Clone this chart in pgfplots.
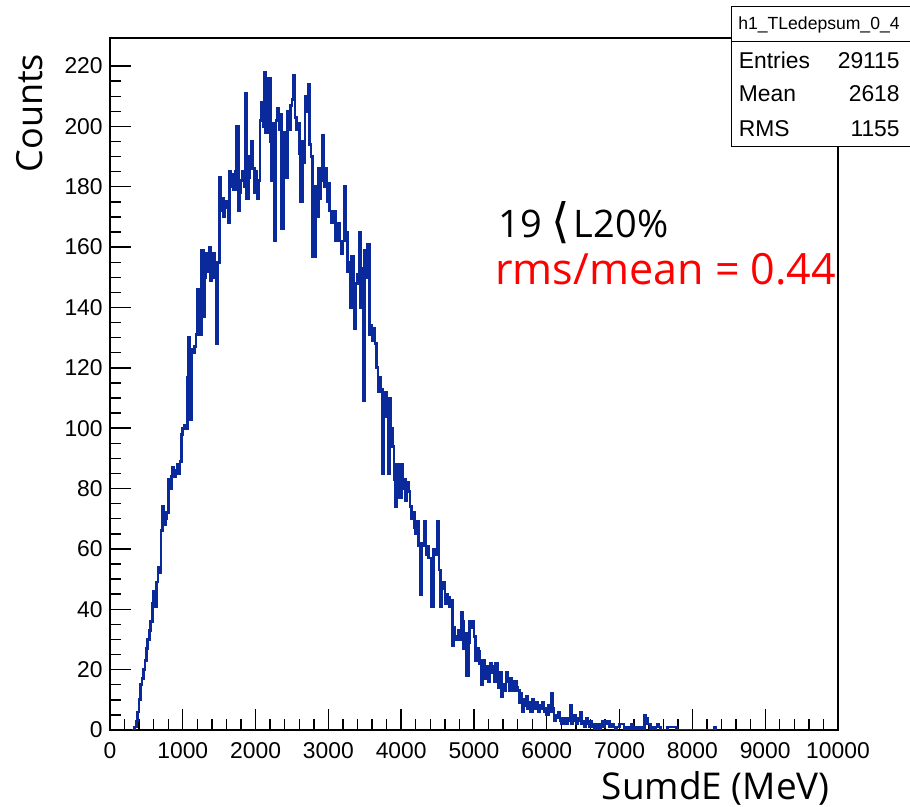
\documentclass[border=0pt]{standalone}
\usepackage{fontspec}
\setmainfont{Liberation Sans}
\newfontfamily\lab{Open Sans}
\newfontfamily\sym{DejaVu Sans}
\usepackage{pgfplots}
\pgfplotsset{compat=1.18}
\definecolor{hist}{HTML}{0A2A9B}
\definecolor{rootred}{HTML}{FF0000}

\begin{document}
\begin{tikzpicture}
\begin{axis}[
  at={(0,0)}, anchor=south west,
  scale only axis, width=145.6mm, height=138.4mm,
  xmin=0, xmax=10000, ymin=0, ymax=229.3,
  scaled x ticks=false, scaled y ticks=false,
  xtick={0,1000,...,10000},
  xticklabels={0,1000,2000,3000,4000,5000,6000,7000,8000,9000,10000},
  ytick={0,20,...,220},
  minor x tick num=4, minor y tick num=3,
  tick align=inside, tick pos=left,
  major tick length=4.2mm, minor tick length=2.2mm,
  tick style={black, line width=0.28mm},
  axis line style={black, line width=0.3mm},
  ticklabel style={font=\fontsize{13}{15}\selectfont},
  /pgf/number format/assume math mode=true,
  xticklabel style={anchor=north, inner sep=0pt, yshift=-2.4mm},
  yticklabel style={anchor=east, inner sep=0pt, xshift=-1.4mm},
]
% bin left edge, counts (20 MeV bins)
\addplot[const plot, draw=hist, line width=0.55mm] coordinates {
(300,0) (320,0) (340,1) (360,3) (380,6) (400,10) (420,15) (440,17) (460,20) (480,23)
(500,27) (520,30) (540,33) (560,36) (580,42) (600,46) (620,41) (640,49) (660,54) (680,52)
(700,66) (720,74) (740,68) (760,70) (780,72) (800,83) (820,80) (840,84) (860,87) (880,84)
(900,86) (920,88) (940,85) (960,89) (980,98) (1000,100) (1020,101) (1040,100) (1060,117) (1080,130)
(1100,103) (1120,126) (1140,125) (1160,127) (1180,131) (1200,146) (1220,143) (1240,131) (1260,159) (1280,137)
(1300,150) (1320,158) (1340,152) (1360,160) (1380,149) (1400,155) (1420,158) (1440,150) (1460,128) (1480,155)
(1500,183) (1520,172) (1540,176) (1560,170) (1580,175) (1600,173) (1620,168) (1640,185) (1660,180) (1680,184)
(1700,179) (1720,185) (1740,200) (1760,172) (1780,178) (1800,182) (1820,185) (1840,180) (1860,211) (1880,176)
(1900,183) (1920,190) (1940,195) (1960,186) (1980,178) (2000,185) (2020,176) (2040,182) (2060,202) (2080,208)
(2100,200) (2120,218) (2140,198) (2160,205) (2180,216) (2200,195) (2220,182) (2240,201) (2260,162) (2280,202)
(2300,206) (2320,199) (2340,204) (2360,166) (2380,190) (2400,198) (2420,183) (2440,205) (2460,199) (2480,207)
(2500,209) (2520,217) (2540,203) (2560,199) (2580,201) (2600,191) (2620,175) (2640,195) (2660,188) (2680,210)
(2700,205) (2720,214) (2740,194) (2760,190) (2780,157) (2800,157) (2820,180) (2840,170) (2860,186) (2880,176)
(2900,182) (2920,197) (2940,180) (2960,186) (2980,175) (3000,181) (3020,172) (3040,168) (3060,170) (3080,172)
(3100,162) (3120,164) (3140,168) (3160,162) (3180,158) (3200,162) (3220,180) (3240,165) (3260,152) (3280,155)
(3300,140) (3320,157) (3340,145) (3360,133) (3380,148) (3400,151) (3420,165) (3440,140) (3460,153) (3480,109)
(3500,159) (3520,150) (3540,161) (3560,131) (3580,134) (3600,129) (3620,133) (3640,128) (3660,120) (3680,112)
(3700,117) (3720,113) (3740,85) (3760,108) (3780,112) (3800,104) (3820,85) (3840,110) (3860,100) (3880,94)
(3900,83) (3920,74) (3940,88) (3960,82) (3980,77) (4000,88) (4020,80) (4040,83) (4060,76) (4080,82)
(4100,79) (4120,74) (4140,70) (4160,72) (4180,67) (4200,65) (4220,69) (4240,61) (4260,45) (4280,62)
(4300,61) (4320,69) (4340,58) (4360,61) (4380,57) (4400,57) (4420,41) (4440,60) (4460,58) (4480,60)
(4500,69) (4520,53) (4540,41) (4560,47) (4580,49) (4600,42) (4620,45) (4640,44) (4660,41) (4680,43)
(4700,28) (4720,34) (4740,31) (4760,30) (4780,33) (4800,30) (4820,39) (4840,36) (4860,27) (4880,32)
(4900,18) (4920,29) (4940,36) (4960,34) (4980,36) (5000,31) (5020,23) (5040,27) (5060,26) (5080,22)
(5100,15) (5120,23) (5140,20) (5160,17) (5180,21) (5200,16) (5220,22) (5240,19) (5260,21) (5280,16)
(5300,22) (5320,18) (5340,14) (5360,19) (5380,11) (5400,15) (5420,13) (5440,19) (5460,16) (5480,13)
(5500,17) (5520,15) (5540,13) (5560,16) (5580,14) (5600,13) (5620,9) (5640,12) (5660,6) (5680,10)
(5700,8) (5720,11) (5740,7) (5760,9) (5780,6) (5800,10) (5820,8) (5840,7) (5860,9) (5880,6)
(5900,8) (5920,7) (5940,9) (5960,6) (5980,7) (6000,5) (6020,8) (6040,6) (6060,12) (6080,7)
(6100,3) (6120,5) (6140,4) (6160,6) (6180,3) (6200,2) (6220,4) (6240,3) (6260,2) (6280,4)
(6300,3) (6320,8) (6340,2) (6360,3) (6380,5) (6400,2) (6420,4) (6440,3) (6460,6) (6480,2)
(6500,3) (6520,1) (6540,4) (6560,2) (6580,1) (6600,3) (6620,1) (6640,2) (6660,0) (6680,1)
(6700,2) (6720,0) (6740,1) (6760,3) (6780,1) (6800,2) (6820,3) (6840,3) (6860,1) (6880,1)
(6900,2) (6920,1) (6940,0) (6960,1) (6980,1) (7000,2) (7020,2) (7040,2) (7060,0) (7080,1)
(7100,0) (7120,1) (7140,0) (7160,2) (7180,1) (7200,0) (7220,1) (7240,0) (7260,1) (7280,0)
(7300,1) (7320,0) (7340,5) (7360,4) (7380,2) (7400,2) (7420,0) (7440,0) (7460,1) (7480,0)
(7500,1) (7520,2) (7540,1) (7560,0) (7580,0) (7600,0) (7620,0) (7640,0) (7660,1) (7680,1)
(7700,1) (7720,1) (7740,1) (7760,1) (7780,0) (8300,1) (8320,0)
};
\end{axis}

% stats box
\fill[white] (124.3mm,116.7mm) rectangle (161mm,144.7mm);
\draw[black, line width=0.3mm] (124.3mm,116.7mm) rectangle (161mm,144.7mm);
\draw[black, line width=0.3mm] (124.3mm,137.7mm) -- (161mm,137.7mm);
\node[anchor=base, inner sep=0pt, font=\fontsize{10}{12}\selectfont] at (141.8mm,140.1mm) {h1\_TLedepsum\_0\_4};
\begin{scope}[every node/.style={inner sep=0pt, font=\fontsize{13}{15}\selectfont}]
\node[anchor=base west] at (125.7mm,132.3mm) {Entries};
\node[anchor=base east] at (158mm,132.3mm) {29115};
\node[anchor=base west] at (125.7mm,125.7mm) {Mean};
\node[anchor=base east] at (158mm,125.7mm) {2618};
\node[anchor=base west] at (125.7mm,118.7mm) {RMS};
\node[anchor=base east] at (158mm,118.7mm) {1155};
\end{scope}

% annotations
\node[anchor=base west, inner sep=0pt, font=\lab\fontsize{21.6}{24}\selectfont] at (77.6mm,98.4mm) {19 {\sym\fontsize{27}{27}\selectfont ⟨}\kern0.1em L20\%};
\node[anchor=base west, inner sep=0pt, text=rootred, font=\lab\fontsize{24.5}{28}\selectfont] at (77mm,89mm) {rms/mean = 0.44};

% axis titles
\node[rotate=90, anchor=base east, inner sep=0pt, font=\lab\fontsize{20.5}{24}\selectfont] at (-13.5mm,135.3mm) {Counts};
\node[anchor=base east, inner sep=0pt, font=\lab\fontsize{21}{24}\selectfont] at (144mm,-14mm) {SumdE (MeV)};

\pgfresetboundingbox
\useasboundingbox (-22mm,-15.4mm) rectangle (160mm,146mm);
\end{tikzpicture}
\end{document}
